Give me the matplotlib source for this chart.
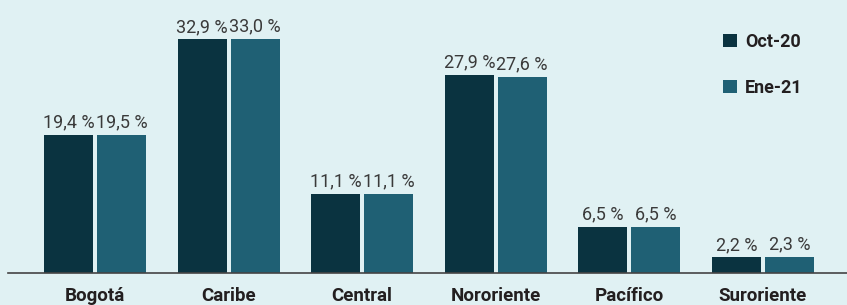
import matplotlib
matplotlib.use('Agg')
import matplotlib.pyplot as plt

regiones = ['Bogotá', 'Caribe', 'Central', 'Nororiente', 'Pacífico', 'Suroriente']
oct20 = [19.4, 32.9, 11.1, 27.9, 6.5, 2.2]
ene21 = [19.5, 33.0, 11.1, 27.6, 6.5, 2.3]
series = ['Oct-20', 'Ene-21']

fondo = '#e0f1f3'
c_oscuro = '#0a3340'
c_claro = '#1f6074'

plt.rcParams['font.family'] = ['Roboto', 'DejaVu Sans']

fig = plt.figure(figsize=(8.47, 3.05), dpi=100)
fig.patch.set_facecolor(fondo)
ax = fig.add_axes([0, 0.105, 1, 0.895])
ax.set_facecolor(fondo)

x = list(range(len(regiones)))
ancho = 0.367
desp = 0.198
b1 = ax.bar([i - desp for i in x], oct20, ancho, color=c_oscuro, label=series[0])
b2 = ax.bar([i + desp for i in x], ene21, ancho, color=c_claro, label=series[1])

def fmt(v):
    return ('%.1f %%' % v).replace('.', ',')

# etiquetas de valor sobre cada barra
for barras, vals in ((b1, oct20), (b2, ene21)):
    for b, v in zip(barras, vals):
        ax.annotate(fmt(v), (b.get_x() + b.get_width() / 2, v), xytext=(0, 2.5),
                    textcoords='offset points', ha='center', va='bottom',
                    fontsize=13, color='#3a3a3a')

ax.set_xlim(-0.711, 5.629)
ax.set_ylim(0, 38.45)

for s in ['top', 'right', 'left']:
    ax.spines[s].set_visible(False)
ax.spines['bottom'].set_color('#444444')
ax.spines['bottom'].set_linewidth(1.2)
ax.spines['bottom'].set_bounds(-0.651, 5.629)

ax.set_yticks([])
ax.set_xticks(x)
ax.set_xticklabels(regiones, fontsize=13.5, fontweight='bold', color='#231f20')
ax.tick_params(axis='x', length=0, pad=10)

ax.legend(loc='upper left', bbox_to_anchor=(0.835, 0.94), frameon=False,
          handlelength=0.75, handleheight=0.75, handletextpad=0.45,
          labelspacing=1.55, prop={'weight': 'bold', 'size': 13},
          labelcolor='#231f20')

fig.savefig('out.png', dpi=100, facecolor=fondo)
